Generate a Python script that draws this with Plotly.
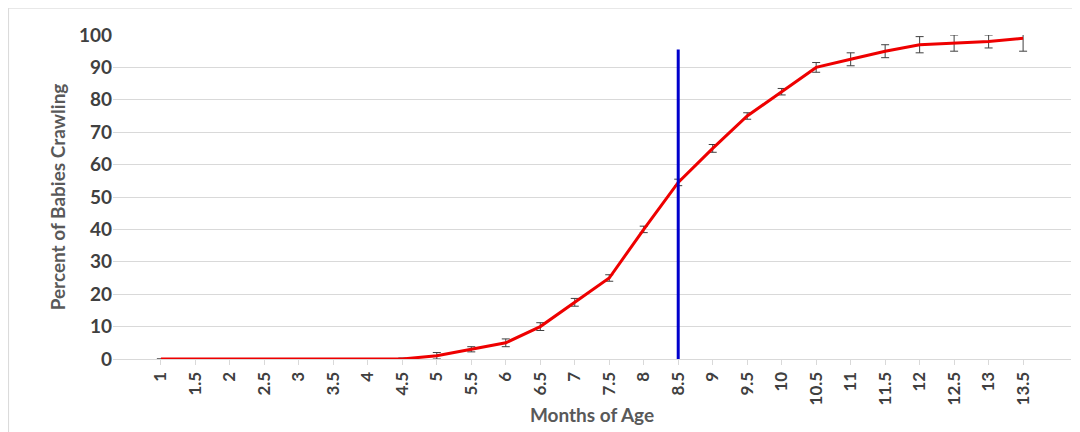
import plotly.graph_objects as go

months = ["1", "1.5", "2", "2.5", "3", "3.5", "4", "4.5", "5", "5.5", "6", "6.5", "7",
          "7.5", "8", "8.5", "9", "9.5", "10", "10.5", "11", "11.5", "12", "12.5", "13", "13.5"]
percent = [0, 0, 0, 0, 0, 0, 0, 0, 1, 3, 5, 10, 17.5, 25, 40, 54.5, 65, 75, 82.5, 90,
           92.5, 95, 97, 97.5, 98, 99]
errors = [0, 0, 0, 0, 0, 0, 0, 0.3, 1, 0.8, 1.2, 1.2, 1.2, 1, 1, 1, 1.2, 1, 1, 1.5,
          2, 2, 2.5, 2.5, 2, 4]
median_month = "8.5"
median_top = 95.5

font = dict(family="Lato, Liberation Sans, sans-serif", color="#595959", size=18)

fig = go.Figure()
fig.add_trace(go.Scatter(
    x=months, y=percent, mode="lines",
    line=dict(color="#ee0000", width=3),
    error_y=dict(type="data", array=errors, color="#404040", thickness=1, width=4),
))
fig.add_trace(go.Scatter(
    x=[median_month, median_month], y=[-2, median_top], mode="lines",
    line=dict(color="#0000cc", width=3), cliponaxis=False,
))

fig.update_layout(
    width=1080, height=432, showlegend=False,
    paper_bgcolor="white", plot_bgcolor="white",
    margin=dict(l=105, r=17, t=27, b=81),
    font=font,
    shapes=[dict(type="rect", xref="paper", yref="paper", x0=-0.109, y0=-0.249,
                 x1=1.017, y1=1.083, line=dict(color="#d9d9d9", width=1))],
)
fig.update_xaxes(
    title=dict(text="<b>Months of Age</b>", font=dict(size=19), standoff=4),
    tickangle=-90, tickfont=dict(size=17, color="#404040"),
    showgrid=False, showline=True, linecolor="#d9d9d9",
    ticks="outside", ticklen=5, tickcolor="#d9d9d9",
    tickprefix="<b>", ticksuffix="</b>",
)
fig.update_yaxes(
    title=dict(text="<b>Percent of Babies Crawling</b>", font=dict(size=19), standoff=8),
    range=[0, 100], dtick=10, tickfont=dict(size=19, color="#404040"),
    showgrid=True, gridcolor="#d9d9d9", zeroline=False,
    tickprefix="<b>", ticksuffix="</b>",
)

fig.write_html("out.html")
